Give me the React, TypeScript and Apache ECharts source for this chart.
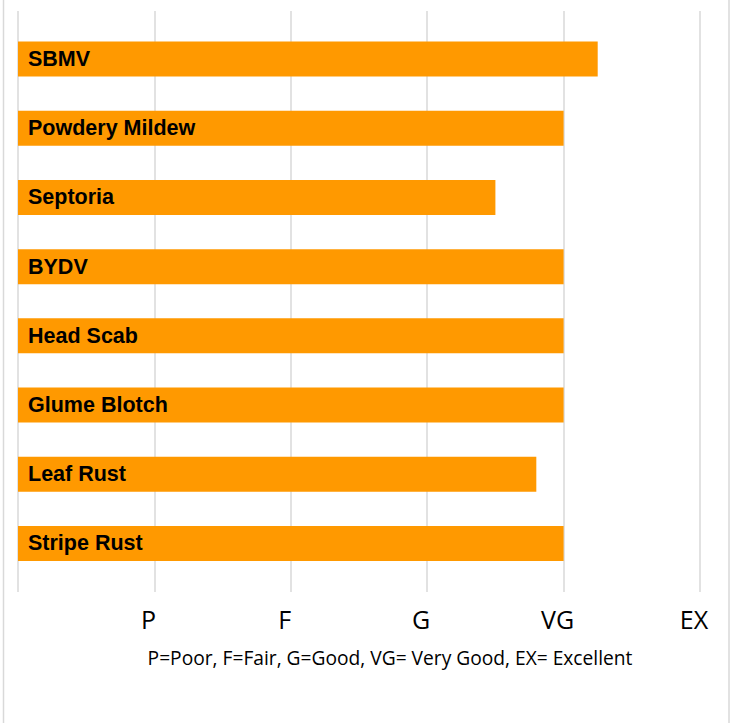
import React, { useEffect, useRef } from "react";
import * as echarts from "echarts";

const diseases = ["SBMV", "Powdery Mildew", "Septoria", "BYDV", "Head Scab", "Glume Blotch", "Leaf Rust", "Stripe Rust"];
const ratings = [4.25, 4.0, 3.5, 4.0, 4.0, 4.0, 3.8, 4.0];
const tickLabels = ["", "P", "F", "G", "VG", "EX"];
const footnote = "P=Poor, F=Fair, G=Good, VG= Very Good, EX= Excellent";

export default function App() {
  const ref = useRef<HTMLDivElement>(null);
  useEffect(() => {
    if (!ref.current) return;
    const chart = echarts.init(ref.current, undefined, { renderer: "svg" });
    chart.setOption({
      animation: false,
      backgroundColor: "#ffffff",
      grid: [
        { left: 18, right: 32, top: 11, bottom: 131, containLabel: false },
        { left: 18, right: 32, top: 24.5, bottom: 145, containLabel: false },
      ],
      xAxis: [
        {
          gridIndex: 0,
          type: "value",
          min: 0,
          max: 5,
          interval: 1,
          axisLine: { show: false },
          axisTick: { show: false },
          splitLine: { show: true, lineStyle: { color: "#d9d9d9", width: 1.5 } },
          axisLabel: {
            formatter: (v: number) => tickLabels[Math.round(v)] ?? "",
            fontFamily: "Open Sans",
            fontSize: 25,
            color: "#000000",
            margin: 14,
            padding: [0, 12, 0, 0],
          },
        },
        {
          gridIndex: 1,
          type: "value",
          min: 0,
          max: 5,
          interval: 1,
          show: false,
        },
      ],
      yAxis: [
        {
          gridIndex: 0,
          type: "category",
          data: diseases,
          show: false,
        },
        {
          gridIndex: 1,
          type: "category",
          data: diseases,
          inverse: true,
          show: false,
        },
      ],
      series: [
        {
          type: "bar",
          xAxisIndex: 1,
          yAxisIndex: 1,
          data: ratings,
          barWidth: 35,
          itemStyle: { color: "#ff9900" },
          label: {
            show: true,
            position: "insideLeft",
            distance: 10,
            formatter: (p: any) => diseases[p.dataIndex],
            fontFamily: "Liberation Sans, Arial, sans-serif",
            fontWeight: "bold",
            fontSize: 21.5,
            color: "#000000",
          },
        },
      ],
      graphic: [
        {
          type: "rect",
          shape: { x: 3.5, y: -10, width: 725.5, height: 745 },
          style: { fill: "none", stroke: "#d9d9d9", lineWidth: 1.5 },
          silent: true,
        },
        {
          type: "text",
          x: 390,
          y: 657,
          style: {
            text: footnote,
            fontFamily: "Open Sans",
            fontSize: 19.2,
            fill: "#000000",
            textAlign: "center",
            textVerticalAlign: "middle",
          },
        },
      ],
    });
    return () => chart.dispose();
  }, []);
  return <div ref={ref} style={{ position: "fixed", left: 0, top: 0, width: 732, height: 723 }} />;
}
